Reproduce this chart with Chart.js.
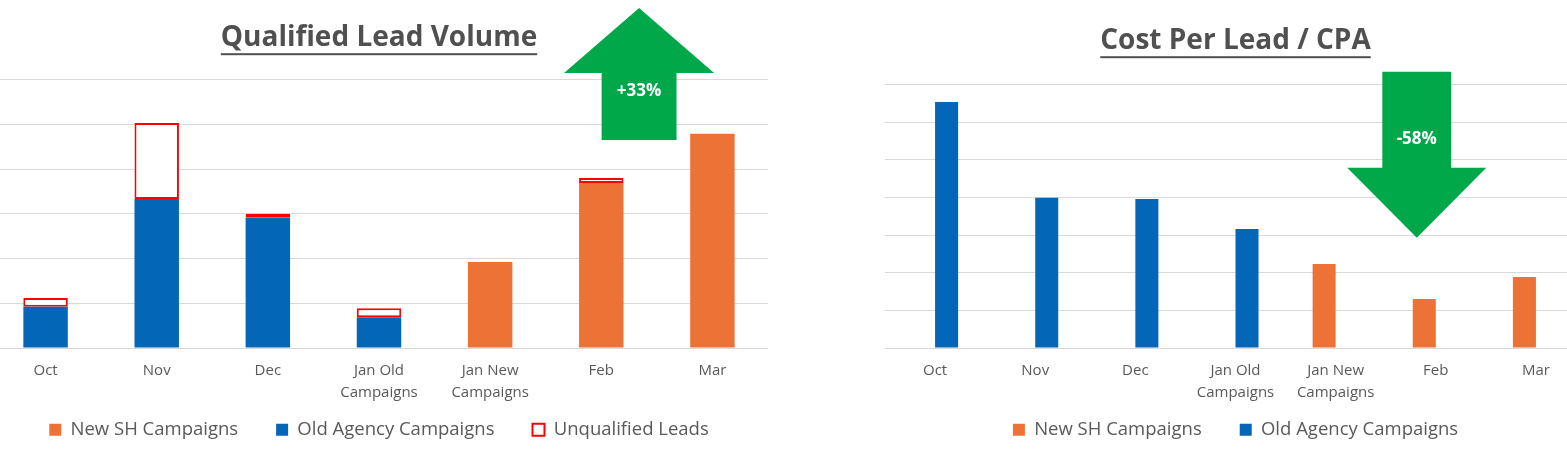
<!DOCTYPE html>
<html>
<head>
<meta charset="utf-8">
<script src="https://cdn.jsdelivr.net/npm/chart.js@4.4.1/dist/chart.umd.min.js"></script>
<style>
  html, body { margin: 0; padding: 0; background: #fff; width: 1567px; height: 449px; overflow: hidden; position: relative; }
  .box { position: absolute; top: 0; }
  #leadBox { left: -10px; width: 778px; height: 449px; }
  #cpaBox { left: 885px; width: 701px; height: 449px; }
</style>
</head>
<body>
<div class="box" id="leadBox"><canvas id="graficoLeads" width="778" height="449"></canvas></div>
<div class="box" id="cpaBox"><canvas id="graficoCpa" width="701" height="449"></canvas></div>
<script>
// categories shared by both charts
const meses = ["Oct", "Nov", "Dec", ["Jan Old", "Campaigns"], ["Jan New", "Campaigns"], "Feb", "Mar"];

// Qualified Lead Volume (grid step = 10)
const leadsNovas = [null, null, null, null, 19.2, 36.9, 47.9];
const leadsAntigas = [9.2, 33.3, 29.1, 6.9, null, null, null];
const leadsNaoQualificados = [2.0, 17.0, 0.9, 2.0, null, 1.1, null];

// Cost Per Lead / CPA (grid step = 10)
const cpaNovas = [null, null, null, null, 22.3, 13.0, 18.9];
const cpaAntigas = [65.4, 39.9, 39.6, 31.6, null, null, null];

const laranja = "#ED7235";
const azul = "#0466B7";
const verde = "#00A84A";
const cinza = "#595959";

// underline under the chart title
const sublinhado = {
  id: "sublinhado",
  afterDraw(chart) {
    const t = chart.titleBlock;
    if (!t) return;
    const ctx = chart.ctx;
    const f = t.options.font;
    ctx.save();
    ctx.font = "bold " + f.size + "px " + f.family;
    const w = ctx.measureText(t.options.text).width;
    const cx = (t.left + t.right) / 2;
    const y = t.top + t.options.padding.top + f.size * 1.2 / 2 + f.size * 0.55;
    ctx.fillStyle = t.options.color;
    ctx.fillRect(cx - w / 2, y, w, 2);
    ctx.restore();
  }
};

// green arrow annotation, placed on the chart scales
const seta = {
  id: "seta",
  afterDatasetsDraw(chart, args, opts) {
    if (!opts.texto) return;
    const x = chart.scales.x, y = chart.scales.y;
    const passo = x.getPixelForValue(1) - x.getPixelForValue(0);
    const cx = x.getPixelForValue(opts.centro);
    const hw = opts.cabeca * passo, sw = opts.haste * passo;
    const yPonta = y.getPixelForValue(opts.ponta);
    const yBase = y.getPixelForValue(opts.base);
    const yFim = y.getPixelForValue(opts.fim);
    const ctx = chart.ctx;
    ctx.save();
    ctx.fillStyle = verde;
    ctx.beginPath();
    ctx.moveTo(cx, yPonta);
    ctx.lineTo(cx + hw, yBase);
    ctx.lineTo(cx + sw, yBase);
    ctx.lineTo(cx + sw, yFim);
    ctx.lineTo(cx - sw, yFim);
    ctx.lineTo(cx - sw, yBase);
    ctx.lineTo(cx - hw, yBase);
    ctx.closePath();
    ctx.fill();
    ctx.fillStyle = "#fff";
    ctx.font = "bold 17px 'Open Sans'";
    ctx.textAlign = "center";
    ctx.textBaseline = "middle";
    ctx.fillText(opts.texto, cx, y.getPixelForValue(opts.textoY));
    ctx.restore();
  }
};

function eixos(max) {
  return {
    x: {
      stacked: false,
      grid: { display: false, drawTicks: false },
      border: { display: false },
      ticks: { color: cinza, font: { family: "Open Sans", size: 15, lineHeight: 1.45 }, padding: 12, maxRotation: 0, autoSkip: false }
    },
    y: {
      min: 0, max: max,
      ticks: { display: false, stepSize: 10 },
      border: { display: false },
      grid: { color: "#d9d9d9", drawTicks: false }
    }
  };
}

function opcoes(titulo, max, tituloPad) {
  return {
    responsive: false,
    animation: false,
    layout: { padding: 0 },
    scales: eixos(max),
    plugins: {
      title: {
        display: true, text: titulo, color: "#505050",
        font: { family: "Open Sans", size: 28, weight: "bold" },
        padding: tituloPad
      },
      legend: {
        position: "bottom",
        labels: { color: cinza, font: { family: "Open Sans", size: 18.5 }, boxWidth: 12, boxHeight: 12, padding: 38 },
        // empty legend title with negative padding: pulls the plot down without moving the legend row
        title: { display: true, text: "", font: { size: 10 }, padding: { top: -22.5, bottom: -22.5 } }
      },
      tooltip: { enabled: false }
    }
  };
}

var gl = document.getElementById("graficoLeads");
if (gl) {
  const op = opcoes("Qualified Lead Volume", 60, { top: 21, bottom: 25 });
  op.scales.x.stacked = true;
  op.scales.y.stacked = true;
  op.plugins.seta = { texto: "+33%", centro: 5.34, cabeca: 0.675, haste: 0.337, ponta: 76, base: 61.5, fim: 46.5, textoY: 57.5 };
  new Chart(gl, {
    type: "bar",
    data: {
      labels: meses,
      datasets: [{
        label: "New SH Campaigns",
        backgroundColor: laranja,
        borderWidth: 0,
        data: leadsNovas,
        barPercentage: 0.4, categoryPercentage: 1
      }, {
        label: "Old Agency Campaigns",
        backgroundColor: azul,
        borderWidth: 0,
        data: leadsAntigas,
        barPercentage: 0.4, categoryPercentage: 1
      }, {
        label: "Unqualified Leads",
        backgroundColor: "#ffffff",
        borderColor: "#FF0000",
        borderWidth: 2,
        borderSkipped: false,
        data: leadsNaoQualificados,
        barPercentage: 0.4, categoryPercentage: 1
      }]
    },
    options: op,
    plugins: [sublinhado, seta]
  });
}

var gc = document.getElementById("graficoCpa");
if (gc) {
  const op = opcoes("Cost Per Lead / CPA", 70, { top: 24, bottom: 27 });
  op.plugins.seta = { texto: "-58%", centro: 4.81, cabeca: 0.694, haste: 0.344, ponta: 29.3, base: 47.9, fim: 73.4, textoY: 55.6 };
  new Chart(gc, {
    type: "bar",
    data: {
      labels: meses,
      datasets: [{
        label: "New SH Campaigns",
        backgroundColor: laranja,
        borderWidth: 0,
        data: cpaNovas,
        barPercentage: 1, categoryPercentage: 0.46
      }, {
        label: "Old Agency Campaigns",
        backgroundColor: azul,
        borderWidth: 0,
        data: cpaAntigas,
        barPercentage: 1, categoryPercentage: 0.46
      }]
    },
    options: op,
    plugins: [sublinhado, seta]
  });
}
</script>
</body>
</html>
